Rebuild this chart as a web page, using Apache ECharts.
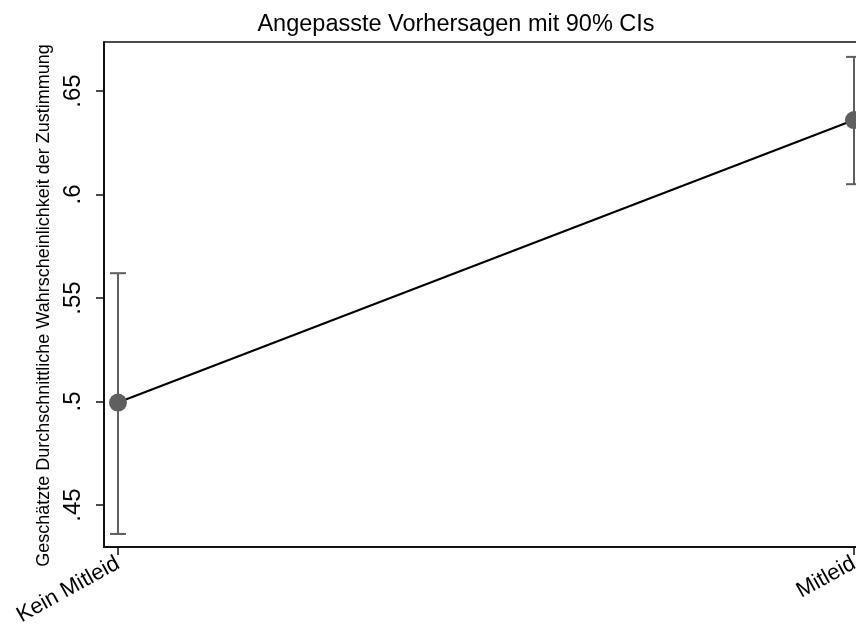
<!DOCTYPE html>
<html><head><meta charset="utf-8">
<script src="https://cdn.jsdelivr.net/npm/echarts@6/dist/echarts.min.js"></script>
<style>html,body{margin:0;padding:0;background:#fff}#c{width:856px;height:626px}</style>
</head><body><div id="c"></div>
<script>
var categories = ['Kein Mitleid', 'Mitleid'];
var estimates = [0.4995, 0.636];
var ciLow = [0.436, 0.605];
var ciHigh = [0.562, 0.6665];
var yTicks = [0.45, 0.5, 0.55, 0.6, 0.65];
var yTickLabels = ['.45', '.5', '.55', '.6', '.65'];

var chart = echarts.init(document.getElementById('c'));
var F = 'Liberation Sans, Arial, sans-serif';
var pts = estimates.map(function (v, i) { return [i, v]; });
var ci = estimates.map(function (v, i) { return [i, ciLow[i], ciHigh[i]]; });
chart.setOption({
  animation: false,
  title: { text: 'Angepasste Vorhersagen mit 90% CIs', left: 451, top: 8, textAlign: 'center',
    textStyle: { fontFamily: F, fontWeight: 'normal', fontSize: 23.5, color: '#000' } },
  grid: { left: 104, right: 0, top: 42, bottom: 79, outerBoundsMode: 'none', containLabel: false },
  xAxis: [{
    type: 'value', min: -0.019, max: 1.0027,
    axisLine: { show: true, onZero: false, lineStyle: { color: '#111', width: 2 } },
    axisTick: { show: true, length: 8, customValues: [0, 1], lineStyle: { color: '#111', width: 1.5 } },
    axisLabel: { customValues: [0, 1], rotate: 29, fontFamily: F, fontSize: 22, color: '#000', margin: 15,
      formatter: function (v) { return categories[Math.round(v)]; } },
    splitLine: { show: false }
  }, {
    type: 'value', position: 'top', min: -0.019, max: 1.0027,
    axisLine: { show: true, onZero: false, lineStyle: { color: '#111', width: 1.5 } },
    axisTick: { show: false }, axisLabel: { show: false }, splitLine: { show: false }
  }],
  yAxis: {
    type: 'value', min: 0.4297, max: 0.6737,
    name: 'Geschätzte Durchschnittliche Wahrscheinlichkeit der Zustimmung',
    nameLocation: 'middle', nameGap: 48,
    nameTextStyle: { fontFamily: F, fontSize: 18, color: '#000', padding: [0, 0, 0, -22] },
    axisLine: { show: true, onZero: false, lineStyle: { color: '#111', width: 2 } },
    axisTick: { show: true, length: 8, customValues: yTicks, lineStyle: { color: '#111', width: 1.5 } },
    axisLabel: { customValues: yTicks, rotate: 90, fontFamily: F, fontSize: 24, color: '#000', margin: 19,
      formatter: function (v) { var i = yTicks.findIndex(function (t) { return Math.abs(t - v) < 1e-6; }); return i >= 0 ? yTickLabels[i] : ''; } },
    splitLine: { show: false }
  },
  series: [
    { type: 'custom', data: ci, z: 2, clip: false,
      renderItem: function (params, api) {
        var lo = api.coord([api.value(0), api.value(1)]);
        var hi = api.coord([api.value(0), api.value(2)]);
        var w = 8;
        var st = { stroke: '#5f5f5f', lineWidth: 2, fill: null };
        return { type: 'group', children: [
          { type: 'line', shape: { x1: lo[0], y1: lo[1], x2: hi[0], y2: hi[1] }, style: st },
          { type: 'line', shape: { x1: lo[0] - w, y1: lo[1], x2: lo[0] + w, y2: lo[1] }, style: st },
          { type: 'line', shape: { x1: hi[0] - w, y1: hi[1], x2: hi[0] + w, y2: hi[1] }, style: st }
        ] };
      }
    },
    { type: 'line', data: pts, z: 3, symbol: 'circle', symbolSize: 18,
      lineStyle: { color: '#000', width: 2 },
      itemStyle: { color: '#5f5f5f' } }
  ]
});
</script></body></html>
